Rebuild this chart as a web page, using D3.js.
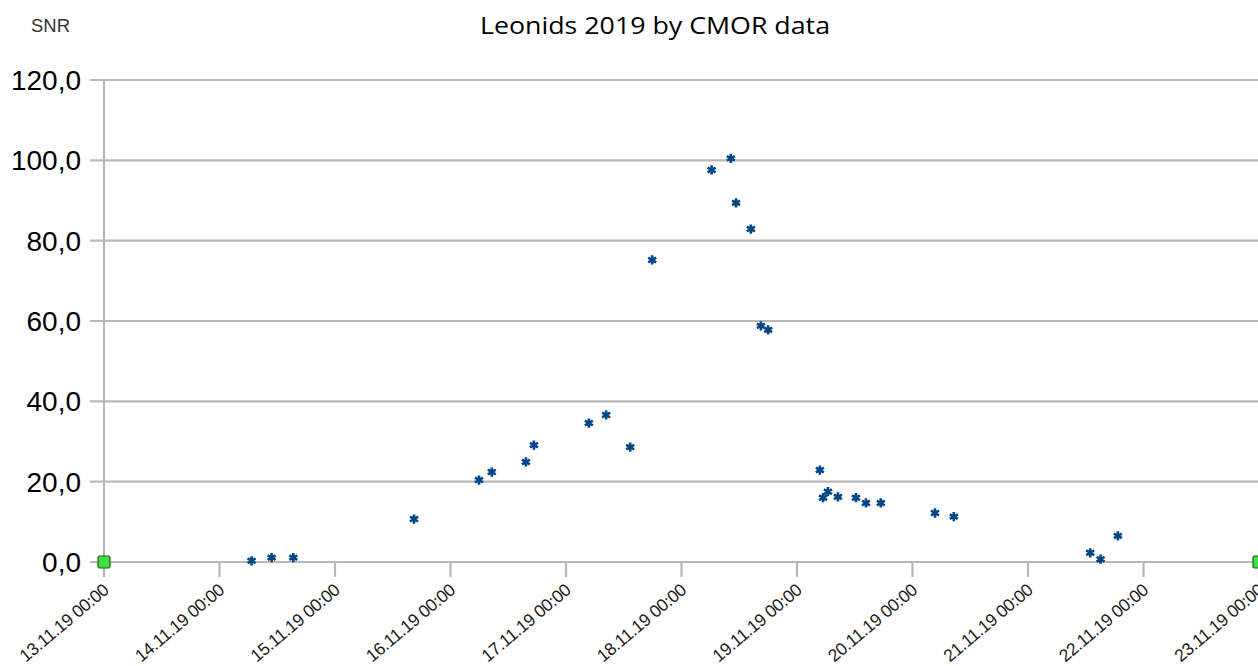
<!DOCTYPE html>
<html>
<head>
<meta charset="utf-8">
<script src="https://cdn.jsdelivr.net/npm/d3@7/dist/d3.min.js"></script>
<style>
  html, body { margin: 0; padding: 0; background: #fff; }
  svg { display: block; }
</style>
</head>
<body>
<svg id="chart" width="1258" height="666"></svg>
<script>
// ---- data ----
const title = "Leonids 2019 by CMOR data";
const yAxisTitle = "SNR";
const times = [
  "2019-11-14T06:40", "2019-11-14T10:50", "2019-11-14T15:20",
  "2019-11-15T16:25", "2019-11-16T05:55", "2019-11-16T08:35",
  "2019-11-16T15:40", "2019-11-16T17:20", "2019-11-17T04:45",
  "2019-11-17T08:20", "2019-11-17T13:20", "2019-11-17T17:55",
  "2019-11-18T06:15", "2019-11-18T10:15", "2019-11-18T11:20",
  "2019-11-18T14:25", "2019-11-18T16:30", "2019-11-18T18:00",
  "2019-11-19T04:45", "2019-11-19T05:25", "2019-11-19T06:25",
  "2019-11-19T08:30", "2019-11-19T12:15", "2019-11-19T14:20",
  "2019-11-19T17:25", "2019-11-20T04:40", "2019-11-20T08:35",
  "2019-11-21T12:55", "2019-11-21T15:05", "2019-11-21T18:40"
];
const snr = [
  0.3, 1.1, 1.1,
  10.7, 20.4, 22.4,
  24.9, 29.1, 34.6,
  36.6, 28.6, 75.2,
  97.6, 100.5, 89.4,
  82.9, 58.8, 57.8,
  22.9, 16.0, 17.5,
  16.2, 16.0, 14.7,
  14.7, 12.2, 11.3,
  2.3, 0.7, 6.5
];
const rangeTimes = ["2019-11-13T00:00", "2019-11-23T00:00"];
const rangeValues = [0, 0];
const xTickTimes = [
  "2019-11-13T00:00", "2019-11-14T00:00", "2019-11-15T00:00", "2019-11-16T00:00",
  "2019-11-17T00:00", "2019-11-18T00:00", "2019-11-19T00:00", "2019-11-20T00:00",
  "2019-11-21T00:00", "2019-11-22T00:00", "2019-11-23T00:00"
];
const yTicks = [0, 20, 40, 60, 80, 100, 120];

// ---- layout ----
const parse = d3.timeParse("%Y-%m-%dT%H:%M");
const fmtX = d3.timeFormat("%d.%m.%y %H:%M");
const fmtY = v => d3.format(".1f")(v).replace(".", ",");

const svg = d3.select("#chart");
const x = d3.scaleTime()
  .domain([parse(rangeTimes[0]), parse(rangeTimes[1])])
  .range([104, 1259]);
const y = d3.scaleLinear().domain([0, 120]).range([562, 80]);

const gridColor = "#b8b8b8";

// horizontal gridlines
svg.append("g").selectAll("line").data(yTicks).join("line")
  .attr("x1", 90).attr("x2", 1258)
  .attr("y1", d => y(d)).attr("y2", d => y(d))
  .attr("stroke", gridColor).attr("stroke-width", 2.2);

// y axis line
svg.append("line")
  .attr("x1", 104).attr("x2", 104)
  .attr("y1", y(120)).attr("y2", 577)
  .attr("stroke", gridColor).attr("stroke-width", 2.2);

// x ticks
const xTicks = xTickTimes.map(parse);
svg.append("g").selectAll("line").data(xTicks).join("line")
  .attr("x1", d => x(d)).attr("x2", d => x(d))
  .attr("y1", 562).attr("y2", 577)
  .attr("stroke", gridColor).attr("stroke-width", 2.2);

// y labels
svg.append("g").selectAll("text").data(yTicks).join("text")
  .attr("x", 81).attr("y", d => y(d))
  .attr("dy", "0.36em")
  .attr("text-anchor", "end")
  .attr("font-family", "Liberation Sans, Arial, sans-serif")
  .attr("font-size", 28)
  .attr("fill", "#000")
  .text(fmtY);

// x labels
svg.append("g").selectAll("text").data(xTicks).join("text")
  .attr("transform", d => `translate(${x(d) + 6},${592}) rotate(-40)`)
  .attr("text-anchor", "end")
  .attr("font-family", "Liberation Sans, Arial, sans-serif")
  .attr("font-size", 17.5)
  .attr("letter-spacing", "-0.4")
  .attr("fill", "#1a1a1a")
  .text(fmtX);

// title
svg.append("text")
  .attr("x", 480).attr("y", 34)
  .attr("font-family", "Open Sans, Noto Sans, sans-serif")
  .attr("font-size", 24)
  .attr("textLength", 350)
  .attr("lengthAdjust", "spacingAndGlyphs")
  .attr("fill", "#000")
  .text(title);

svg.append("text")
  .attr("x", 31).attr("y", 32)
  .attr("font-family", "Liberation Sans, Arial, sans-serif")
  .attr("font-size", 19)
  .attr("textLength", 39)
  .attr("lengthAdjust", "spacingAndGlyphs")
  .attr("fill", "#333")
  .text(yAxisTitle);

// range series (green squares)
const rangePts = rangeTimes.map((t, i) => ({ t: parse(t), v: rangeValues[i] }));
svg.append("g").selectAll("rect").data(rangePts).join("rect")
  .attr("x", d => x(d.t) - 6).attr("y", d => y(d.v) - 6)
  .attr("width", 12).attr("height", 12)
  .attr("rx", 1.5)
  .attr("fill", "#3fe03f")
  .attr("stroke", "#1f5a1f").attr("stroke-width", 1.2);

// SNR points (asterisks)
const pts = times.map((t, i) => ({ t: parse(t), v: snr[i] }));
const star = d3.symbol().type(d3.symbolAsterisk).size(60);
svg.append("g").selectAll("path").data(pts).join("path")
  .attr("transform", d => `translate(${x(d.t)},${y(d.v)})`)
  .attr("d", star)
  .attr("fill", "none")
  .attr("stroke", "#004586")
  .attr("stroke-width", 2.6);
</script>
</body>
</html>
